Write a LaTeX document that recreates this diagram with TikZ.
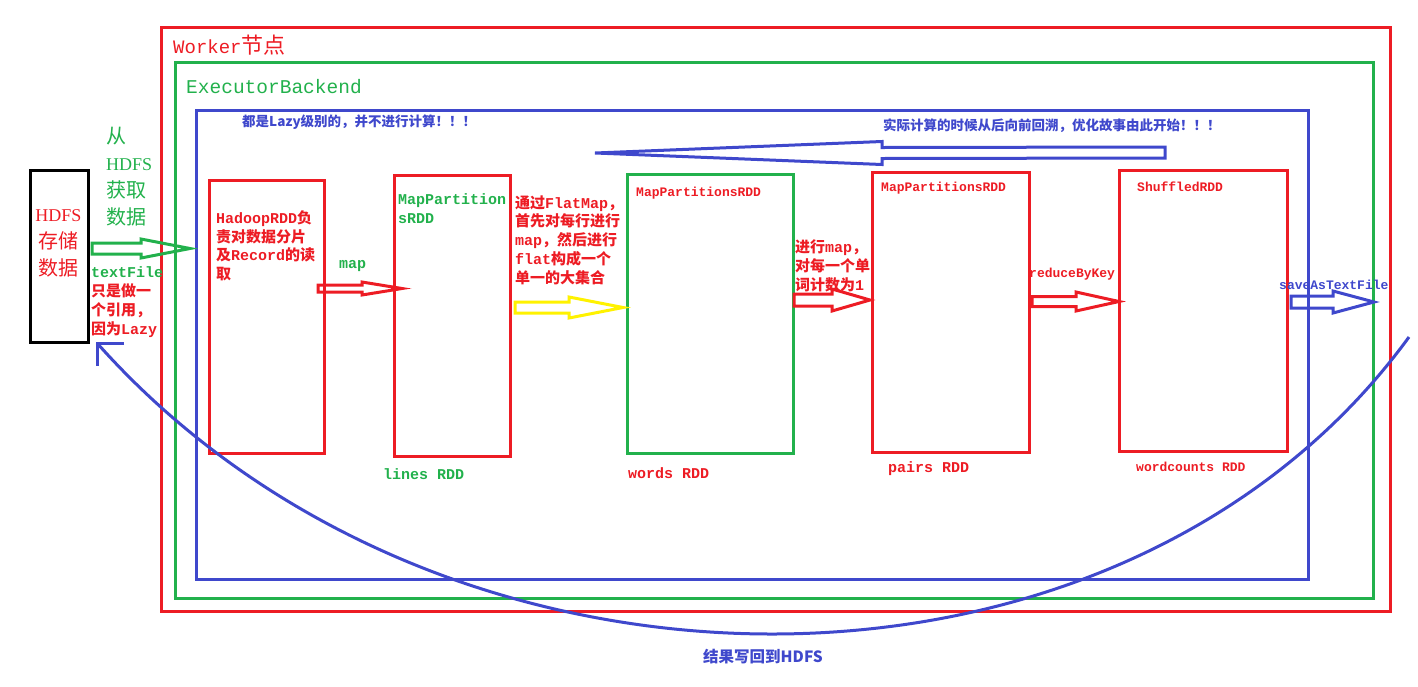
\documentclass[tikz,border=0pt]{standalone}
\usepackage{fontspec}
\setmainfont{Liberation Mono}
\newfontfamily\cj{Noto Sans CJK SC}
\newfontfamily\sr{Liberation Serif}
\usetikzlibrary{calc}
\definecolor{pred}{HTML}{ED1C24}
\definecolor{pgreen}{HTML}{22B14C}
\definecolor{pblue}{HTML}{3F48CC}
\definecolor{pyellow}{HTML}{FFF200}
\newcommand\zh[1]{{\cj #1}}
% block arrow: style, start, tip, body half, head half, head length
\newcommand\barrow[6]{%
  \draw[#1] ($(#2)+(0,{-(#4)})$) -- ($(#3)+({-(#6)},{-(#4)})$) -- ($(#3)+({-(#6)},{-(#5)})$)
    -- (#3) -- ($(#3)+({-(#6)},{#5})$) -- ($(#3)+({-(#6)},{#4})$) -- ($(#2)+(0,{#4})$) -- cycle;}
\tikzset{
  frame/.style={draw=#1, line width=3pt, inner sep=0pt, outer sep=0pt, anchor=north west},
  lbl/.style={inner sep=0pt, anchor=west, text=#1},
  small/.style={font=\bfseries\fontsize{13}{16}\selectfont},
  mid/.style={font=\bfseries\fontsize{15}{19}\selectfont},
  bluetxt/.style={font=\cj\bfseries\fontsize{13.5}{14}\selectfont, text=pblue, inner sep=0pt, anchor=west},
  blk/.style={line width=3pt, draw=#1, line join=miter},
}
\begin{document}
\begin{tikzpicture}[x=1pt,y=-1pt]
\useasboundingbox (0,0) rectangle (1418,686);
% frames
\node[frame=pred, minimum width=1229, minimum height=584] (worker) at (161,27) {};
\node[frame=pgreen, minimum width=1198, minimum height=536] (exec) at (175,62) {};
\node[frame=pblue, minimum width=1112, minimum height=469] (lazy) at (196,110) {};
\node[frame=black, minimum width=58, minimum height=172] (hdfs) at (30,170) {};
% RDD boxes
\node[frame=pred, minimum width=115, minimum height=273] (b1) at (209,180) {};
\node[frame=pred, minimum width=116, minimum height=281] (b2) at (394,175) {};
\node[frame=pgreen, minimum width=166, minimum height=279] (b3) at (627,174) {};
\node[frame=pred, minimum width=157, minimum height=280] (b4) at (872,172) {};
\node[frame=pred, minimum width=168, minimum height=281] (b5) at (1119,170) {};
% titles
\node[lbl=pred, font=\fontsize{19}{19}\selectfont] (tw) at (173,45) {Worker{\fontsize{22}{22}\selectfont\cj 节点}};
\node[lbl=pgreen, font=\fontsize{19.5}{20}\selectfont] (te) at (186,87) {ExecutorBackend};
\node[bluetxt] (tl) at (242,122) {都是Lazy级别的，并不进行计算！！！};
\node[bluetxt] (tr) at (883,126) {实际计算的时候从后向前回溯，优化故事由此开始！！！};
% HDFS
\node[inner sep=0pt, align=center, text=pred, font=\fontsize{20}{27}\selectfont] (th) at (58.5,243) {{\sr\fontsize{18}{27}\selectfont HDFS}\\\zh{存储}\\\zh{数据}};
\node[lbl=pgreen, align=left, font=\fontsize{20}{27}\selectfont] (tg) at (106,176.5) {\zh{从}\\{\sr\fontsize{18}{27}\selectfont HDFS}\\\zh{获取}\\\zh{数据}};
\node[lbl=pred, align=left, mid] (ttf) at (91,302) {{\color{pgreen}textFile}\\\zh{只是做一}\\\zh{个引用，}\\\zh{因为}Lazy};
% box texts
\node[lbl=pred, align=left, mid, font=\bfseries\fontsize{15}{18.5}\selectfont] (t1) at (216,246) {HadoopRDD\zh{负}\\\zh{责对数据分片}\\\zh{及}Record\zh{的读}\\\zh{取}};
\node[lbl=pgreen, mid] (tmap) at (339,266) {map};
\node[lbl=pgreen, align=left, mid] (t2) at (398,208.5) {MapPartition\\sRDD};
\node[lbl=pgreen, mid] (tlines) at (383,474) {lines RDD};
\node[lbl=pred, align=left, mid, font=\bfseries\fontsize{15}{18.8}\selectfont] (tfm) at (515,240) {\zh{通过}FlatMap\zh{，}\\\zh{首先对每行进行}\\map\zh{，然后进行}\\flat\zh{构成一个}\\\zh{单一的大集合}};
\node[lbl=pred, small] (t3) at (636,193) {MapPartitionsRDD};
\node[lbl=pred, mid] (twords) at (628,473) {words RDD};
\node[lbl=pred, align=left, mid] (tpm) at (795,266) {\zh{进行}map\zh{，}\\\zh{对每一个单}\\\zh{词计数为}1};
\node[lbl=pred, small] (t4) at (881,188) {MapPartitionsRDD};
\node[lbl=pred, mid] (tpairs) at (888,469) {pairs RDD};
\node[lbl=pred, small] (trbk) at (1029,274) {reduceByKey};
\node[lbl=pred, small] (t5) at (1137,187) {ShuffledRDD};
\node[lbl=pred, small] (twc) at (1136,467) {wordcounts RDD};
\node[lbl=pblue, small] (tsave) at (1279,285) {saveAsTextFile};
\node[lbl=pblue, font=\cj\bfseries\fontsize{15.5}{16}\selectfont] (twb) at (703,657) {结果写回到HDFS};
% block arrows
\coordinate (a1s) at (92,248.5);   \coordinate (a1t) at (190,248.5);
\coordinate (a2s) at (318,288.5);  \coordinate (a2t) at (402,288.5);
\coordinate (a3s) at (515,307.5);  \coordinate (a3t) at (623,307.5);
\coordinate (a4s) at (794,300);    \coordinate (a4t) at (870,300);
\coordinate (a5s) at (1032,301.5); \coordinate (a5t) at (1119,301.5);
\coordinate (a6s) at (1291,302);   \coordinate (a6t) at (1374,302);
\coordinate (a7s) at (1165,152.5); \coordinate (a7t) at (595,153);
\barrow{blk=pgreen}{a1s}{a1t}{5.5}{9.5}{49}
\barrow{blk=pred}{a2s}{a2t}{3.5}{6.5}{40}
\barrow{blk=pyellow}{a3s}{a3t}{5.5}{10.5}{54}
\barrow{blk=pred}{a4s}{a4t}{6}{11}{38}
\barrow{blk=pred}{a5s}{a5t}{5}{9.5}{43}
\barrow{blk=pblue}{a6s}{a6t}{6}{11}{41}
\barrow{blk=pblue}{a7s}{a7t}{5.5}{11.5}{-287}
% write-back curve
\coordinate (cs) at (97,343);
\coordinate (ce) at (1409,337);
\draw[pblue, line width=3pt] (ce) .. controls (1121,732) and (443,732) .. (cs);
\draw[pblue, line width=3pt, line join=miter] ($(cs)+(27,0)$) -- (cs) -- ($(cs)+(0,23)$);
\end{tikzpicture}
\end{document}
